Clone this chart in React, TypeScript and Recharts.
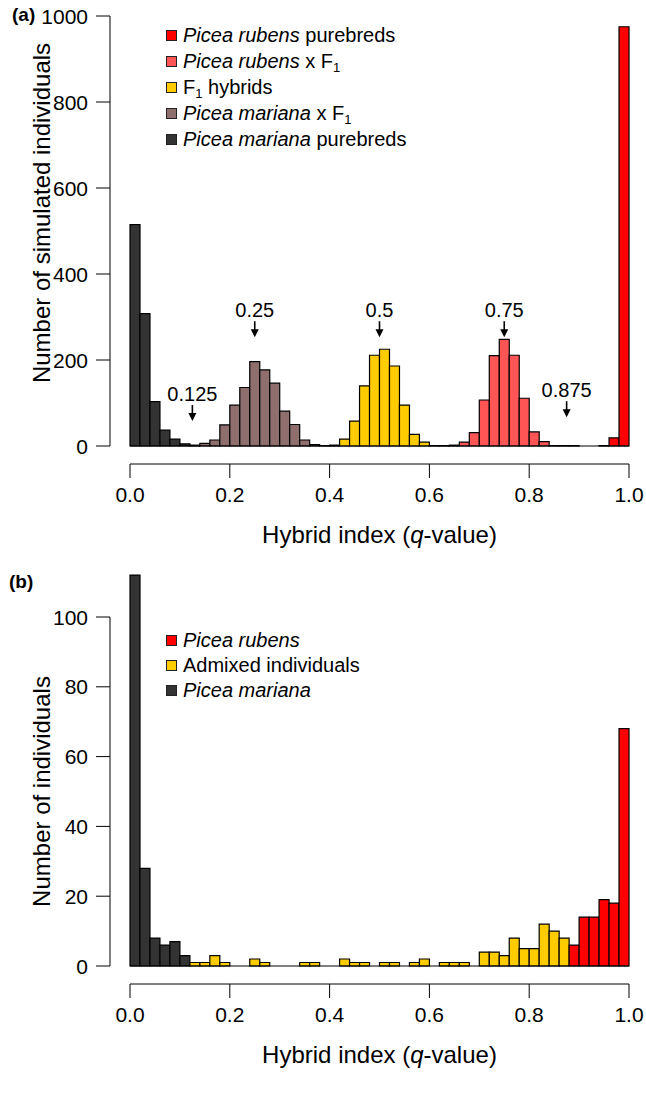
import { Bar, BarChart, Cell, Legend, ReferenceDot, ReferenceLine, XAxis, YAxis } from 'recharts'

const FONT = '"Liberation Sans", Arial, Helvetica, sans-serif'

// hybrid index axis (both panels), bins of 0.02
const qTicks = [0, 0.2, 0.4, 0.6, 0.8, 1]
const binWidth = 0.02

// (a) simulated individuals
const simCounts = [
  515, 308, 103, 37, 16, 5, 2, 6, 14, 49,
  95, 136, 196, 177, 146, 81, 50, 14, 3, 1,
  2, 16, 58, 140, 211, 225, 186, 95, 27, 9,
  1, 1, 2, 9, 31, 107, 210, 248, 211, 111,
  33, 10, 1, 1, 1, 0, 0, 1, 19, 975,
]
const simGroups = [
  'M', 'M', 'M', 'M', 'M', 'M', 'M', 'MF', 'MF', 'MF',
  'MF', 'MF', 'MF', 'MF', 'MF', 'MF', 'MF', 'MF', 'MF', 'MF',
  'F1', 'F1', 'F1', 'F1', 'F1', 'F1', 'F1', 'F1', 'F1', 'F1',
  'F1', 'F1', 'RF', 'RF', 'RF', 'RF', 'RF', 'RF', 'RF', 'RF',
  'RF', 'RF', 'RF', 'RF', 'RF', 'RF', 'RF', 'RF', 'R', 'R',
]
const simTicks = [0, 200, 400, 600, 800, 1000]

// arrows marking expected q of each class
const arrowQ = [0.125, 0.25, 0.5, 0.75, 0.875]
const arrowTip = [58, 253, 253, 253, 67]
const arrowText = ['0.125', '0.25', '0.5', '0.75', '0.875']

// (b) observed individuals
const obsCounts = [
  112, 28, 8, 6, 7, 3, 1, 1, 3, 1,
  0, 0, 2, 1, 0, 0, 0, 1, 1, 0,
  0, 2, 1, 1, 0, 1, 1, 0, 1, 2,
  0, 1, 1, 1, 0, 4, 4, 3, 8, 5,
  5, 12, 10, 8, 6, 14, 14, 19, 18, 68,
]
const obsGroups = [
  'M', 'M', 'M', 'M', 'M', 'M', 'A', 'A', 'A', 'A',
  'A', 'A', 'A', 'A', 'A', 'A', 'A', 'A', 'A', 'A',
  'A', 'A', 'A', 'A', 'A', 'A', 'A', 'A', 'A', 'A',
  'A', 'A', 'A', 'A', 'A', 'A', 'A', 'A', 'A', 'A',
  'A', 'A', 'A', 'A', 'R', 'R', 'R', 'R', 'R', 'R',
]
const obsTicks = [0, 20, 40, 60, 80, 100]

const groupColors: Record<string, string> = {
  M: '#333333',
  MF: '#8f6e6e',
  F1: '#ffcc00',
  A: '#ffcc00',
  RF: '#ff5555',
  R: '#ff0000',
}

type Seg = { text: string; italic?: boolean; sub?: boolean }

const simLegendGroups = ['R', 'RF', 'F1', 'MF', 'M']
const simLegendLabels: Seg[][] = [
  [{ text: 'Picea rubens', italic: true }, { text: ' purebreds' }],
  [{ text: 'Picea rubens', italic: true }, { text: ' x F' }, { text: '1', sub: true }],
  [{ text: 'F' }, { text: '1', sub: true }, { text: ' hybrids' }],
  [{ text: 'Picea mariana', italic: true }, { text: ' x F' }, { text: '1', sub: true }],
  [{ text: 'Picea mariana', italic: true }, { text: ' purebreds' }],
]

const obsLegendGroups = ['R', 'A', 'M']
const obsLegendLabels: Seg[][] = [
  [{ text: 'Picea rubens', italic: true }],
  [{ text: 'Admixed individuals' }],
  [{ text: 'Picea mariana', italic: true }],
]

// R-style detached axes: y axis sits 20px left of the bars, x axis 18px below
const Y_GAP = 20
const X_GAP = 18
const TICK = 14
const TICK_FONT = 21

const css = `
body { margin: 0; }
.hist .recharts-bar, .hist .recharts-bar-rectangles { clip-path: none !important; }
`

function makeLegend(labels: Seg[][], groups: string[], rowH: number) {
  return () => (
    <div style={{ fontFamily: FONT, fontSize: 20, color: '#000' }}>
      {labels.map((segs, i) => (
        <div key={i} style={{ display: 'flex', alignItems: 'center', height: rowH, lineHeight: `${rowH}px`, whiteSpace: 'nowrap' }}>
          <span
            style={{
              width: 11,
              height: 11,
              boxSizing: 'border-box',
              border: '1px solid #222',
              background: groupColors[groups[i]],
              marginRight: 6,
              flex: 'none',
            }}
          />
          <span>
            {segs.map((s, j) =>
              s.sub ? (
                <span key={j} style={{ fontSize: 13, verticalAlign: -4, lineHeight: 0 }}>{s.text}</span>
              ) : (
                <span key={j} style={{ fontStyle: s.italic ? 'italic' : 'normal' }}>{s.text}</span>
              ),
            )}
          </span>
        </div>
      ))}
    </div>
  )
}

function makeXTick(step: number, count: number) {
  return (p: any) => {
    const { x, y, payload, index } = p
    const ay = y + X_GAP
    return (
      <g>
        <line x1={x} y1={ay} x2={x} y2={ay + TICK} stroke="#000" strokeWidth={1} />
        {index < count - 1 && <line x1={x} y1={ay} x2={x + step} y2={ay} stroke="#000" strokeWidth={1} />}
        <text x={x} y={ay + 23} dy="0.71em" textAnchor="middle" fontSize={TICK_FONT} fontFamily={FONT} fill="#000">
          {Number(payload.value).toFixed(1)}
        </text>
        {index === 0 && (
          <text x={x + (step * (count - 1)) / 2} y={y + 97} textAnchor="middle" fontSize={24} fontFamily={FONT} fill="#000">
            Hybrid index (<tspan fontStyle="italic">q</tspan>-value)
          </text>
        )}
      </g>
    )
  }
}

function makeYTick(step: number, count: number, title: string, titleShift: number) {
  return (p: any) => {
    const { x, y, payload, index } = p
    const ax = x - Y_GAP
    const ty = y - (step * (count - 1)) / 2 + titleShift
    const tx = ax - 60
    return (
      <g>
        <line x1={ax - TICK} y1={y} x2={ax} y2={y} stroke="#000" strokeWidth={1} />
        {index < count - 1 && <line x1={ax} y1={y} x2={ax} y2={y - step} stroke="#000" strokeWidth={1} />}
        <text x={ax - TICK - 8} y={y} dy="0.36em" textAnchor="end" fontSize={TICK_FONT} fontFamily={FONT} fill="#000">
          {payload.value}
        </text>
        {index === 0 && (
          <text x={tx} y={ty} transform={`rotate(-90, ${tx}, ${ty})`} textAnchor="middle" fontSize={24} fontFamily={FONT} fill="#000">
            {title}
          </text>
        )}
      </g>
    )
  }
}

function arrowShape(text: string) {
  return (p: any) => {
    const { cx, cy } = p
    return (
      <g>
        <text x={cx} y={cy - 20} textAnchor="middle" fontSize={20} fontFamily={FONT} fill="#000">{text}</text>
        <line x1={cx} y1={cy - 16} x2={cx} y2={cy - 6} stroke="#000" strokeWidth={1.6} />
        <path d={`M${cx - 4},${cy - 8} L${cx + 4},${cy - 8} L${cx},${cy} Z`} fill="#000" />
      </g>
    )
  }
}

type HistProps = {
  counts: number[]
  groups: string[]
  yTicks: number[]
  yMax: number
  yTitle: string
  yTitleShift: number
  height: number
  top: number
  bottom: number
  legend: () => any
  legendTop: number
  arrows?: boolean
}

const PLOT_W = 499

function Histogram({ counts, groups, yTicks, yMax, yTitle, yTitleShift, height, top, bottom, legend, legendTop, arrows }: HistProps) {
  const data = counts.map((count, i) => ({ q: i * binWidth + binWidth / 2, count, group: groups[i] }))
  const plotH = height - top - bottom - 100
  return (
    <BarChart
      width={646}
      height={height}
      data={data}
      margin={{ top, right: 17, bottom, left: 0 }}
      barCategoryGap={0}
      barGap={0}
    >
      <XAxis
        dataKey="q"
        type="number"
        domain={[0, 1]}
        ticks={qTicks}
        interval={0}
        height={100}
        axisLine={false}
        tickLine={false}
        tickSize={0}
        tickMargin={0}
        allowDataOverflow
        tick={makeXTick(PLOT_W / (qTicks.length - 1), qTicks.length)}
      />
      <YAxis
        type="number"
        domain={[0, yMax]}
        ticks={yTicks}
        interval={0}
        width={130}
        axisLine={false}
        tickLine={false}
        tickSize={0}
        tickMargin={0}
        allowDataOverflow
        tick={makeYTick(plotH / (yTicks.length - 1), yTicks.length, yTitle, yTitleShift)}
      />
      <ReferenceLine y={0} stroke="#000" strokeWidth={1.2} />
      <Bar dataKey="count" stroke="#000" strokeWidth={1.2} isAnimationActive={false}>
        {data.map((d, i) => (
          <Cell key={i} fill={groupColors[d.group]} />
        ))}
      </Bar>
      {arrows &&
        arrowQ.map((q, i) => (
          <ReferenceDot key={i} x={q} y={arrowTip[i]} r={0} ifOverflow="visible" shape={arrowShape(arrowText[i])} />
        ))}
      <Legend
        layout="vertical"
        align="center"
        verticalAlign="middle"
        content={legend}
        wrapperStyle={{ left: 166, top: legendTop, width: 420, height: 'auto' }}
      />
    </BarChart>
  )
}

const tagStyle = {
  position: 'absolute' as const,
  fontFamily: FONT,
  fontWeight: 'bold' as const,
  fontSize: 19,
  lineHeight: '19px',
  color: '#000',
}

export default function App() {
  return (
    <div className="hist" style={{ position: 'relative', width: 646, height: 1097, background: '#fff' }}>
      <style>{css}</style>
      <div style={{ position: 'absolute', left: 0, top: 0 }}>
        <Histogram
          counts={simCounts}
          groups={simGroups}
          yTicks={simTicks}
          yMax={1000}
          yTitle="Number of simulated individuals"
          yTitleShift={-18}
          height={560}
          top={16}
          bottom={14}
          legend={makeLegend(simLegendLabels, simLegendGroups, 26)}
          legendTop={22}
          arrows
        />
      </div>
      <div style={{ position: 'absolute', left: 0, top: 560 }}>
        <Histogram
          counts={obsCounts}
          groups={obsGroups}
          yTicks={obsTicks}
          yMax={100}
          yTitle="Number of individuals"
          yTitleShift={0}
          height={537}
          top={57}
          bottom={31}
          legend={makeLegend(obsLegendLabels, obsLegendGroups, 25)}
          legendTop={68}
        />
      </div>
      <div style={{ ...tagStyle, left: 12, top: 5 }}>(a)</div>
      <div style={{ ...tagStyle, left: 9, top: 572 }}>(b)</div>
    </div>
  )
}
